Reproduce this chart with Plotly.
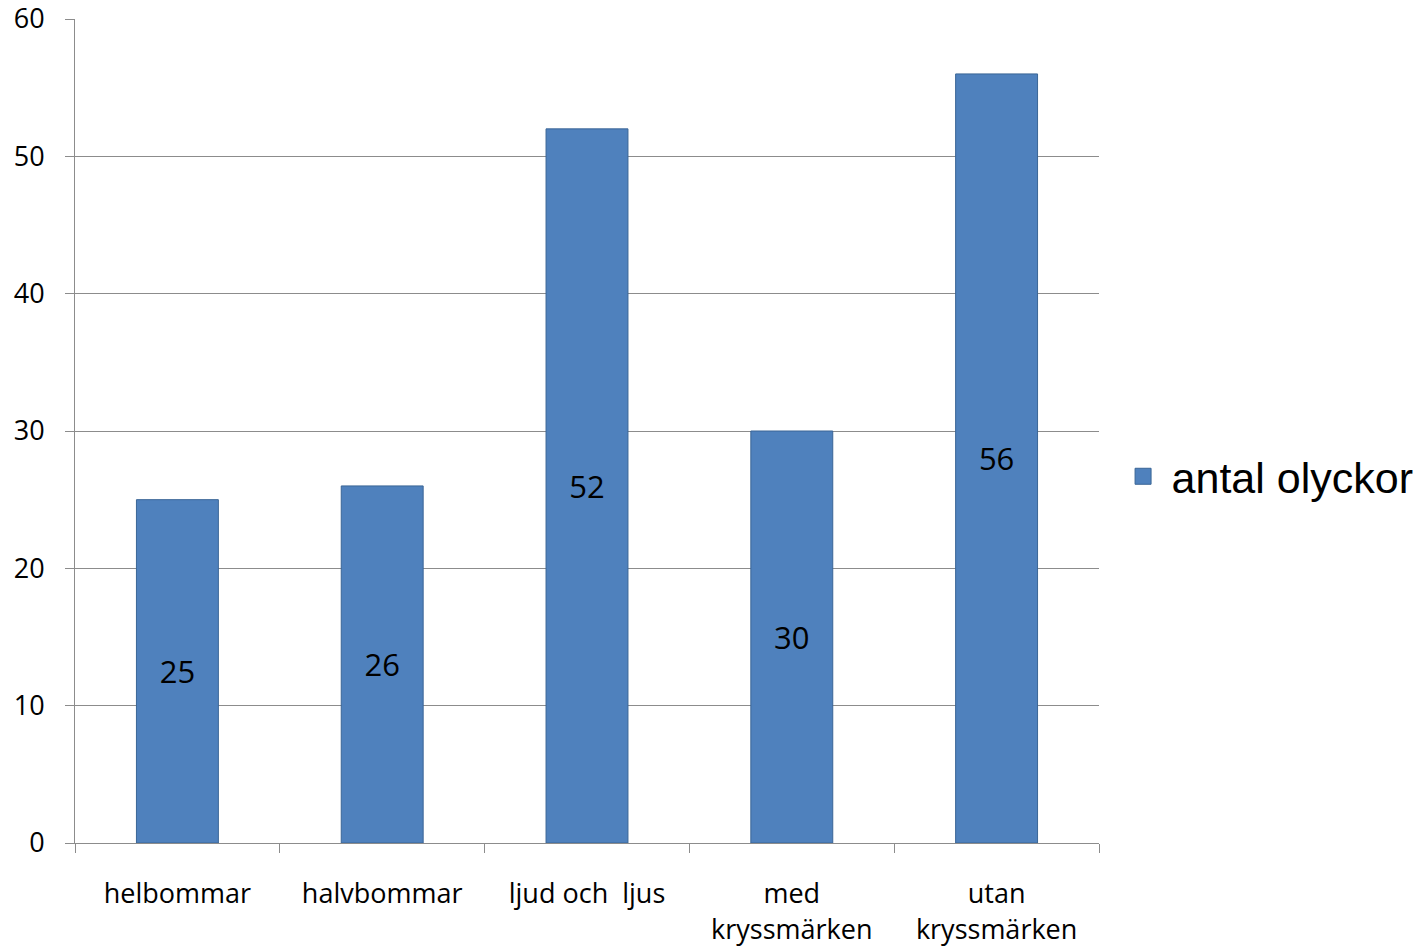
import plotly.graph_objects as go

categories = ["helbommar", "halvbommar", "ljud och  ljus", "med<br>kryssmärken", "utan<br>kryssmärken"]
values = [25, 26, 52, 30, 56]
series_name = "antal olyckor"
y_ticks = [0, 10, 20, 30, 40, 50, 60]

bar_color = "#4F81BD"
bar_edge = "#3A6596"

fig = go.Figure()
fig.add_trace(go.Bar(
    x=categories, y=values, name=series_name,
    marker=dict(color=bar_color, line=dict(color=bar_edge, width=1)),
    text=[str(v) for v in values], textposition="inside", insidetextanchor="middle",
    textfont=dict(family="Open Sans", size=31, color="black"),
    showlegend=False,
))
fig.add_trace(go.Scatter(
    x=[None], y=[None], mode="markers", name=series_name,
    marker=dict(symbol="square", size=16, color=bar_color, line=dict(color=bar_edge, width=1)),
    showlegend=True,
))

grid = "#8C8C8C"
fig.update_layout(
    width=1424, height=947,
    margin=dict(l=75, r=325, t=19, b=104, autoexpand=False),
    plot_bgcolor="white", paper_bgcolor="white",
    bargap=0.6,
    showlegend=True,
    legend=dict(x=1.0152, y=0.445, xanchor="left", yanchor="middle",
                font=dict(family="Liberation Sans", size=43, color="black"),
                itemsizing="trace", itemwidth=47),
    font=dict(family="Open Sans", color="black"),
)
fig.update_xaxes(
    automargin=False,
    showline=True, linecolor=grid, linewidth=1,
    ticks="outside", tickson="boundaries", ticklen=9, tickcolor=grid,
    tickfont=dict(family="Open Sans", size=27, color="black"),
    ticklabelstandoff=27,
    ticklabeloverflow="allow",
)
fig.update_yaxes(
    automargin=False,
    range=[0, 60], tickvals=y_ticks,
    showline=True, linecolor=grid, linewidth=1,
    showgrid=True, gridcolor=grid, gridwidth=1,
    ticks="outside", ticklen=9, tickcolor=grid,
    tickfont=dict(family="Open Sans", size=27, color="black"),
    ticklabelstandoff=15,
    ticklabeloverflow="allow",
    zeroline=False,
)
fig.write_html("out.html",
               config={"displayModeBar": False},
               post_script="document.body.style.margin='0';document.body.style.overflow='hidden';")
